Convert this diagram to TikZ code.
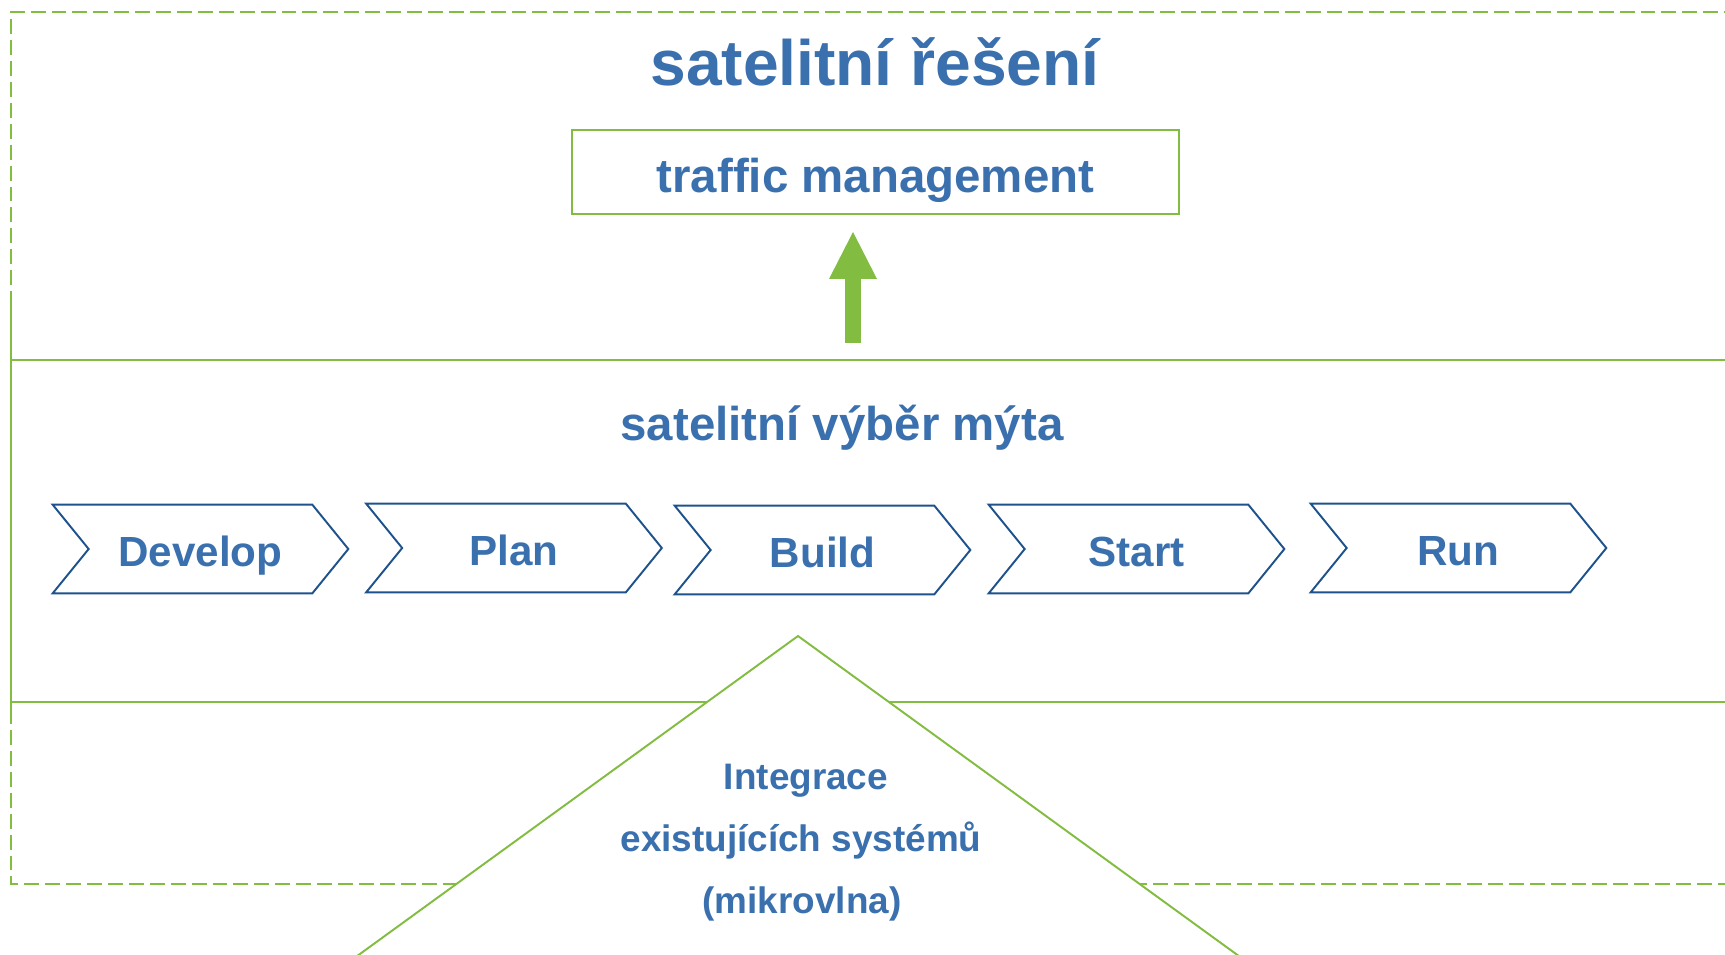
\documentclass[tikz,border=0pt]{standalone}
\usepackage{fontspec}
\setmainfont{Liberation Sans}
\usetikzlibrary{arrows.meta,calc}
\definecolor{tollblue}{RGB}{58,112,174}
\definecolor{chevblue}{RGB}{30,82,140}
\definecolor{satgreen}{RGB}{130,188,65}

\tikzset{
  frameline/.style={satgreen,line width=1.1pt},
  dashframe/.style={satgreen,line width=1.1pt,dash pattern=on 8.5pt off 3.4pt},
  heading/.style={text=tollblue,font=\fontsize{27}{30}\selectfont\bfseries},
  intnote/.style={text=tollblue,font=\fontsize{21}{25}\selectfont\bfseries,anchor=base},
  stage/.style={text=tollblue,font=\fontsize{24}{28}\selectfont\bfseries,inner sep=0pt,
    minimum width=4.46cm,minimum height=1.76cm,text height=19.4pt,text depth=0pt},
  chevron/.style={chevblue,line width=1.1pt,line join=miter}
}

\begin{document}
\begin{tikzpicture}[x=0.02cm,y=-0.02cm]
  \useasboundingbox (0,0) rectangle (1725,954);
  \clip (0,0) rectangle (1725,954);
  % frames
  \draw[dashframe] (1760,12) -- (11,12) -- (11,884) -- (1760,884);
  \draw[frameline] (11,298) -- (11,714);
  \draw[frameline] (11,360) -- (1760,360);
  \draw[frameline] (11,702) -- (1760,702);
  % top part
  \node[heading,font=\fontsize{36.5}{40}\selectfont\bfseries,anchor=base] (satsol) at (875,85) {satelitní řešení};
  \node[heading,draw=satgreen,line width=1.3pt,inner sep=0pt,minimum width=12.14cm,
    minimum height=1.68cm,text height=23pt,text depth=0pt] (traffic) at (875.5,172) {traffic management};
  \coordinate (uplow) at (853,343);
  \coordinate (uptip) at (853,232);
  \draw[satgreen,line width=0.32cm,-{Triangle[length=0.94cm,width=0.96cm,line width=0pt]}] (uplow) -- (uptip);
  % middle part
  \node[heading,anchor=base] (toll) at (842,440) {satelitní výběr mýta};
  \foreach \nm/\cx/\cy/\txt in {dev/200.5/549/Develop,pla/514/548/Plan,bui/822.5/550/Build,
                                sta/1136.5/549/Start,run/1458.5/548/Run} {
    \node[stage] (\nm) at (\cx,\cy) {\txt};
    \draw[chevron] ($(\nm.north west)+(-36,0)$) -- (\nm.north east) -- ($(\nm.east)+(36,0)$)
      -- (\nm.south east) -- ($(\nm.south west)+(-36,0)$) -- (\nm.west) -- cycle;
  }
  % bottom part
  \filldraw[frameline,fill=white] (798,636) -- (280,1012) -- (1316,1012) -- cycle;
  \node[intnote] (integ) at (806,789) {Integrace};
  \node[intnote] (exist) at (801,851) {existujících systémů};
  \node[intnote] (micro) at (802,913) {(mikrovlna)};
\end{tikzpicture}
\end{document}
